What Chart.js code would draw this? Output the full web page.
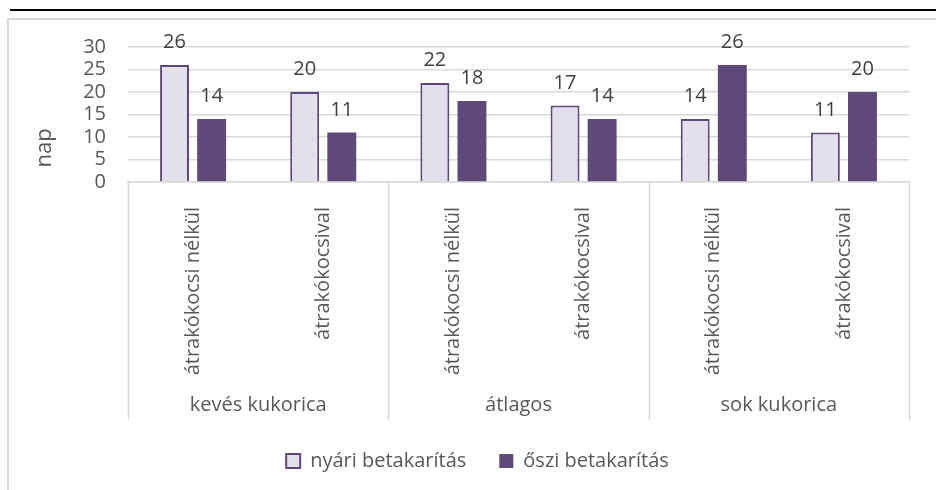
<!DOCTYPE html>
<html>
<head>
<meta charset="utf-8">
<script src="https://cdn.jsdelivr.net/npm/chart.js@4.4.0/dist/chart.umd.min.js"></script>
<style>
  body { margin: 0; overflow: hidden; background: #fff; }
  #topline { position: absolute; left: 10px; top: 9px; width: 926px; height: 2px; background: #000; }
  #frame { position: absolute; left: 7px; top: 18px; width: 940px; height: 480px;
           border-left: 2px solid #d9d9d9; border-top: 2px solid #d9d9d9; }
  #wrap { position: absolute; left: 0; top: 0; width: 936px; height: 481px; }
</style>
</head>
<body>
<div id="topline"></div>
<div id="frame"></div>
<div id="wrap"><canvas id="chart"></canvas></div>
<script>
const subLabels = ['átrakókocsi nélkül', 'átrakókocsival', 'átrakókocsi nélkül', 'átrakókocsival', 'átrakókocsi nélkül', 'átrakókocsival'];
const groupLabels = ['kevés kukorica', 'átlagos', 'sok kukorica'];
const nyari = [26, 20, 22, 17, 14, 11];
const oszi = [14, 11, 18, 14, 26, 20];
const yTitle = 'nap';

const FONT = "'Open Sans', sans-serif";

// value labels above bars, group labels and separators under the axis
const extras = {
    id: 'extras',
    afterDatasetsDraw(chart) {
        const ctx = chart.ctx;
        ctx.save();
        ctx.font = '20px ' + FONT;
        ctx.fillStyle = '#404040';
        ctx.textAlign = 'center';
        ctx.textBaseline = 'alphabetic';
        chart.data.datasets.forEach((ds, i) => {
            chart.getDatasetMeta(i).data.forEach((bar, j) => {
                ctx.fillText(ds.data[j], bar.x, bar.y - 17);
            });
        });
        ctx.restore();
    },
    afterDraw(chart) {
        const ctx = chart.ctx;
        const xs = chart.scales.x;
        const n = groupLabels.length;
        const w = (xs.right - xs.left) / n;
        ctx.save();
        ctx.strokeStyle = '#d9d9d9';
        ctx.lineWidth = 1.5;
        for (let k = 0; k <= n; k++) {
            const x = Math.round(xs.left + w * k) + 0.5;
            ctx.beginPath();
            ctx.moveTo(x, xs.top);
            ctx.lineTo(x, 420);
            ctx.stroke();
        }
        ctx.font = '20px ' + FONT;
        ctx.fillStyle = '#595959';
        ctx.textAlign = 'center';
        ctx.textBaseline = 'middle';
        groupLabels.forEach((g, k) => ctx.fillText(g, xs.left + w * (k + 0.5), 405));

        // y axis title
        ctx.translate(45, 148);
        ctx.rotate(-Math.PI / 2);
        ctx.font = '22px ' + FONT;
        ctx.fillText(yTitle, 0, 0);
        ctx.restore();
    }
};

new Chart(document.getElementById('chart'), {
    type: 'bar',
    data: {
        labels: subLabels,
        datasets: [{
            label: 'nyári betakarítás',
            data: nyari,
            backgroundColor: '#e4dfec',
            borderColor: '#5f497a',
            borderWidth: 2,
            barPercentage: 0.78,
            categoryPercentage: 0.57
        }, {
            label: 'őszi betakarítás',
            data: oszi,
            backgroundColor: '#5f497a',
            borderColor: '#5f497a',
            borderWidth: 0,
            barPercentage: 0.78,
            categoryPercentage: 0.57
        }]
    },
    options: {
        responsive: true,
        maintainAspectRatio: false,
        animation: false,
        layout: { padding: { left: 46, right: 27, top: 47, bottom: 0 } },
        scales: {
            x: {
                grid: { display: false },
                border: { display: true, color: '#d9d9d9', width: 1.5 },
                ticks: {
                    font: { family: FONT, size: 20 },
                    color: '#595959',
                    minRotation: 90,
                    maxRotation: 90,
                    autoSkip: false,
                    padding: 17
                },
                afterFit(scale) { scale.height = 236; }
            },
            y: {
                min: 0,
                max: 30,
                ticks: {
                    stepSize: 5,
                    autoSkip: false,
                    font: { family: FONT, size: 20 },
                    color: '#595959',
                    padding: 22
                },
                grid: { color: '#d9d9d9', lineWidth: 1.5, drawTicks: false },
                border: { display: false },
                afterFit(scale) { scale.width = 82; }
            }
        },
        plugins: {
            legend: {
                position: 'bottom',
                labels: {
                    font: { family: FONT, size: 20 },
                    color: '#595959',
                    boxWidth: 14,
                    boxHeight: 14,
                    padding: 33
                }
            },
            tooltip: { enabled: false }
        }
    },
    plugins: [extras]
});
</script>
</body>
</html>
